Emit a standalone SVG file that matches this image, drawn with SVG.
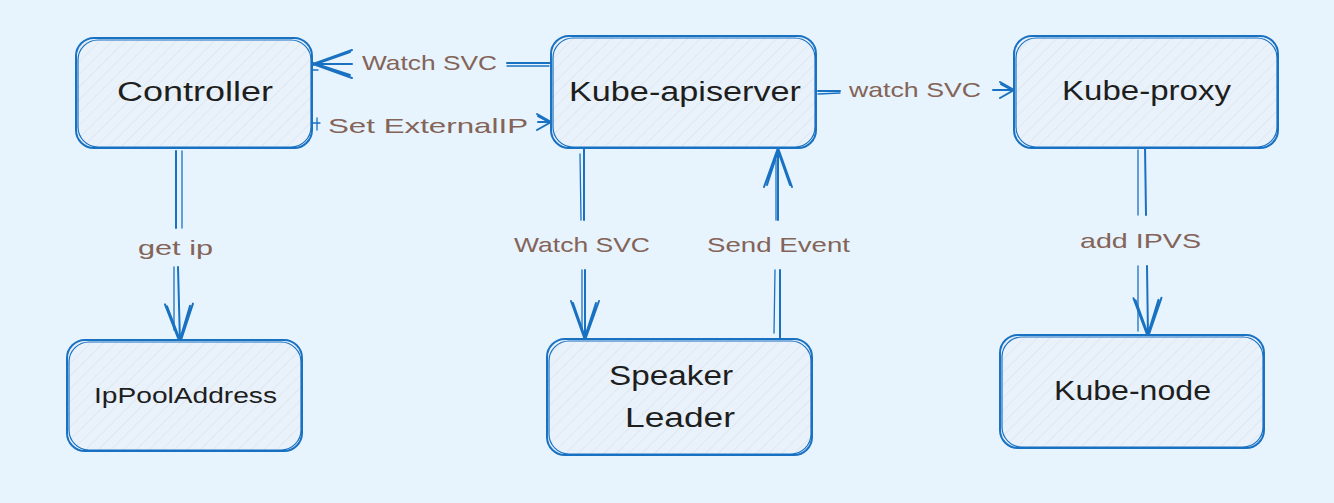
<svg xmlns="http://www.w3.org/2000/svg" width="1334" height="503" viewBox="0 0 1334 503">
  <defs>
    <pattern id="hatch" patternUnits="userSpaceOnUse" width="9" height="9" patternTransform="rotate(45)">
      <rect width="9" height="9" fill="#e9f2fa"/>
      <line x1="0" y1="0" x2="0" y2="9" stroke="#d6dfe7" stroke-width="1"/>
    </pattern>
    <marker id="bigArrow" markerUnits="userSpaceOnUse" markerWidth="50" markerHeight="40" viewBox="-45 -20 50 40" refX="0" refY="0" orient="auto" overflow="visible">
      <path d="M-39,-14 L0,0 L-39,14 M-37,-11 L0,1 M-37,12 L0,-1" fill="none" stroke="#1971c2" stroke-width="2" stroke-linecap="round"/>
    </marker>
    <marker id="smallArrow" markerUnits="userSpaceOnUse" markerWidth="30" markerHeight="30" viewBox="-20 -15 30 30" refX="0" refY="0" orient="auto" overflow="visible">
      <path d="M-14,-8 L0,0 L-14,8 M-13,-6 L0,1" fill="none" stroke="#1971c2" stroke-width="2" stroke-linecap="round"/>
    </marker>
  </defs>
  <style>
    .node rect.box { fill: url(#hatch); stroke: #1971c2; stroke-width: 2; }
    .node rect.box2 { fill: none; stroke: #1971c2; stroke-width: 1.2; }
    .node text { font-family: "Liberation Sans", Arial, sans-serif; font-size: 27px; fill: #1e1e1e; }
    .edge { fill: none; stroke: #1971c2; stroke-width: 2; stroke-linecap: round; }
    .edge2 { fill: none; stroke: #1971c2; stroke-width: 1.3; stroke-linecap: round; }
    .lbl { font-family: "Liberation Sans", Arial, sans-serif; font-size: 21px; fill: #846358; }
  </style>
  <rect x="0" y="0" width="1334" height="503" fill="#e7f4fd"/>

  <g id="connectors">
    <!-- Watch SVC: apiserver -> Controller -->
    <g id="e-watch-ctrl">
      <path class="edge" d="M551,63 L507,63"/>
      <path class="edge2" d="M549,66 L507,66"/>
      <path class="edge" d="M352,64 L313,64" marker-end="url(#bigArrow)"/>
      <path class="edge2" d="M318,70 L306,70"/>
      <text class="lbl" x="362" y="70" textLength="135" lengthAdjust="spacingAndGlyphs">Watch SVC</text>
    </g>
    <!-- Set ExternalIP: Controller -> apiserver -->
    <g id="e-setip">
      <path class="edge2" d="M309,123 L320,123"/>
      <path class="edge2" d="M317,118 L317,130"/>
      <path class="edge" d="M538,122 L551,122" marker-end="url(#smallArrow)"/>
      <text class="lbl" x="328" y="133" textLength="200" lengthAdjust="spacingAndGlyphs">Set ExternalIP</text>
    </g>
    <!-- watch SVC: apiserver -> Kube-proxy -->
    <g id="e-watch-proxy">
      <path class="edge" d="M818,91 L840,91"/>
      <path class="edge2" d="M818,94 L840,93"/>
      <path class="edge" d="M993,90 L1014,90" marker-end="url(#smallArrow)"/>
      <text class="lbl" x="849" y="97" textLength="132" lengthAdjust="spacingAndGlyphs">watch SVC</text>
    </g>
    <!-- get ip: Controller -> IpPoolAddress -->
    <g id="e-getip">
      <path class="edge" d="M176,151 L176,228"/>
      <path class="edge2" d="M182,151 L182,228"/>
      <path class="edge" d="M178,267 L180,343" marker-end="url(#bigArrow)"/>
      <path class="edge2" d="M174,267 L174,330"/>
      <text class="lbl" x="138" y="255" textLength="75" lengthAdjust="spacingAndGlyphs">get ip</text>
    </g>
    <!-- Watch SVC: apiserver -> Speaker -->
    <g id="e-watch-speaker">
      <path class="edge" d="M584,149 L584,220"/>
      <path class="edge2" d="M580,154 L581,220"/>
      <path class="edge" d="M585,270 L585,340" marker-end="url(#bigArrow)"/>
      <path class="edge2" d="M582,270 L582,330"/>
      <text class="lbl" x="514" y="252" textLength="136" lengthAdjust="spacingAndGlyphs">Watch SVC</text>
    </g>
    <!-- Send Event: Speaker -> apiserver -->
    <g id="e-send-event">
      <path class="edge" d="M780,340 L780,270"/>
      <path class="edge2" d="M774,333 L775,270"/>
      <path class="edge" d="M778,220 L778,148" marker-end="url(#bigArrow)"/>
      <path class="edge2" d="M776,220 L776,160"/>
      <text class="lbl" x="707" y="252" textLength="143" lengthAdjust="spacingAndGlyphs">Send Event</text>
    </g>
    <!-- add IPVS: Kube-proxy -> Kube-node -->
    <g id="e-ipvs">
      <path class="edge2" d="M1138,150 L1138,215"/>
      <path class="edge" d="M1145,146 L1146,215"/>
      <path class="edge" d="M1147,266 L1148,337" marker-end="url(#bigArrow)"/>
      <path class="edge2" d="M1138,266 L1138,331"/>
      <text class="lbl" x="1080" y="248" textLength="121" lengthAdjust="spacingAndGlyphs">add IPVS</text>
    </g>
  </g>

  <g id="controller" class="node">
    <rect class="box" x="76" y="38" width="236" height="110" rx="18"/>
    <rect class="box2" x="78" y="40" width="233" height="107" rx="20"/>
    <text x="117" y="101" textLength="156" lengthAdjust="spacingAndGlyphs">Controller</text>
  </g>
  <g id="kube-apiserver" class="node">
    <rect class="box" x="551" y="36" width="265" height="112" rx="18"/>
    <rect class="box2" x="553" y="38" width="262" height="109" rx="20"/>
    <text x="569" y="101" textLength="232" lengthAdjust="spacingAndGlyphs">Kube-apiserver</text>
  </g>
  <g id="kube-proxy" class="node">
    <rect class="box" x="1014" y="36" width="264" height="112" rx="18"/>
    <rect class="box2" x="1016" y="38" width="261" height="109" rx="20"/>
    <text x="1062" y="100" textLength="169" lengthAdjust="spacingAndGlyphs">Kube-proxy</text>
  </g>
  <g id="ippooladdress" class="node">
    <rect class="box" x="67" y="340" width="235" height="111" rx="18"/>
    <rect class="box2" x="69" y="342" width="232" height="108" rx="20"/>
    <text x="94" y="403" style="font-size:22px" textLength="183" lengthAdjust="spacingAndGlyphs">IpPoolAddress</text>
  </g>
  <g id="speaker-leader" class="node">
    <rect class="box" x="547" y="339" width="265" height="116" rx="18"/>
    <rect class="box2" x="549" y="341" width="262" height="113" rx="20"/>
    <text x="609" y="385" textLength="124" lengthAdjust="spacingAndGlyphs">Speaker</text>
    <text x="625" y="427" textLength="110" lengthAdjust="spacingAndGlyphs">Leader</text>
  </g>
  <g id="kube-node" class="node">
    <rect class="box" x="1000" y="335" width="264" height="113" rx="18"/>
    <rect class="box2" x="1002" y="337" width="261" height="110" rx="20"/>
    <text x="1054" y="400" textLength="157" lengthAdjust="spacingAndGlyphs">Kube-node</text>
  </g>
</svg>
